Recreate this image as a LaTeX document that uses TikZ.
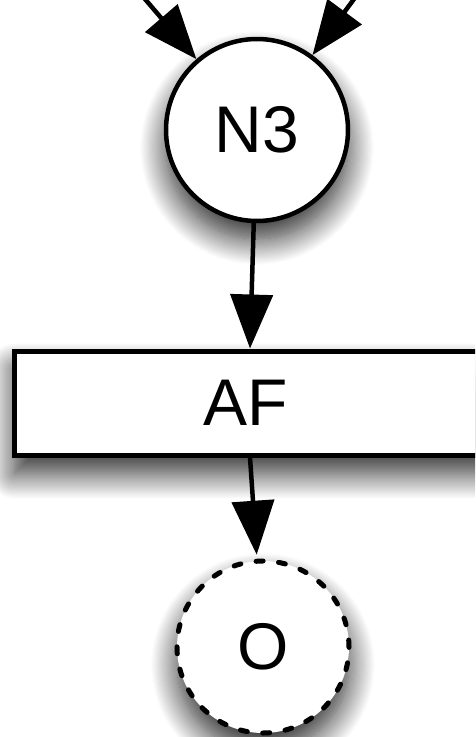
\documentclass[tikz,border=0pt]{standalone}
\usepackage{fontspec}
\setmainfont{Liberation Sans}
\usetikzlibrary{arrows.meta,shadows.blur}
\begin{document}
\begin{tikzpicture}[x=1pt,y=1pt,
  bigfont/.style={font=\fontsize{66pt}{70pt}\selectfont},
  softshadow/.style={blur shadow={shadow xshift=0pt,shadow yshift=-18pt,shadow blur radius=26pt,shadow blur steps=24,shadow opacity=85}},
  circnode/.style={circle,draw,line width=4.5pt,fill=white,inner sep=0pt,bigfont,softshadow},
  outnode/.style={circle,draw,line width=5pt,fill=white,inner sep=0pt,bigfont,softshadow,
    dash pattern=on 7pt off 15.5pt,line cap=round},
  rectbox/.style={rectangle,draw,line width=5pt,fill=white,bigfont,softshadow,
    minimum height=104pt,text width=228pt,align=left,inner xsep=188.5pt},
  arr/.style={line width=4.5pt,-{Triangle[length=54pt,width=42pt]}}
]
\useasboundingbox (0,0) rectangle (475,-737);
\clip (0,0) rectangle (475,-737);
\node[circnode,minimum size=182pt] (N3) at (257,-130) {N3};
\node[rectbox] (AF) at (317,-403) {AF};
\node[outnode,minimum size=172pt] (O) at (263,-647) {O};
\coordinate (inL) at (127,22);
\coordinate (inR) at (377,32);
\draw[arr] (inL) -- (N3);
\draw[arr] (inR) -- (N3);
\draw[arr] (N3.268) -- ([xshift=238pt]AF.north west);
\draw[arr,shorten >=4pt] ([xshift=238pt]AF.south west) -- (O);
\end{tikzpicture}
\end{document}
